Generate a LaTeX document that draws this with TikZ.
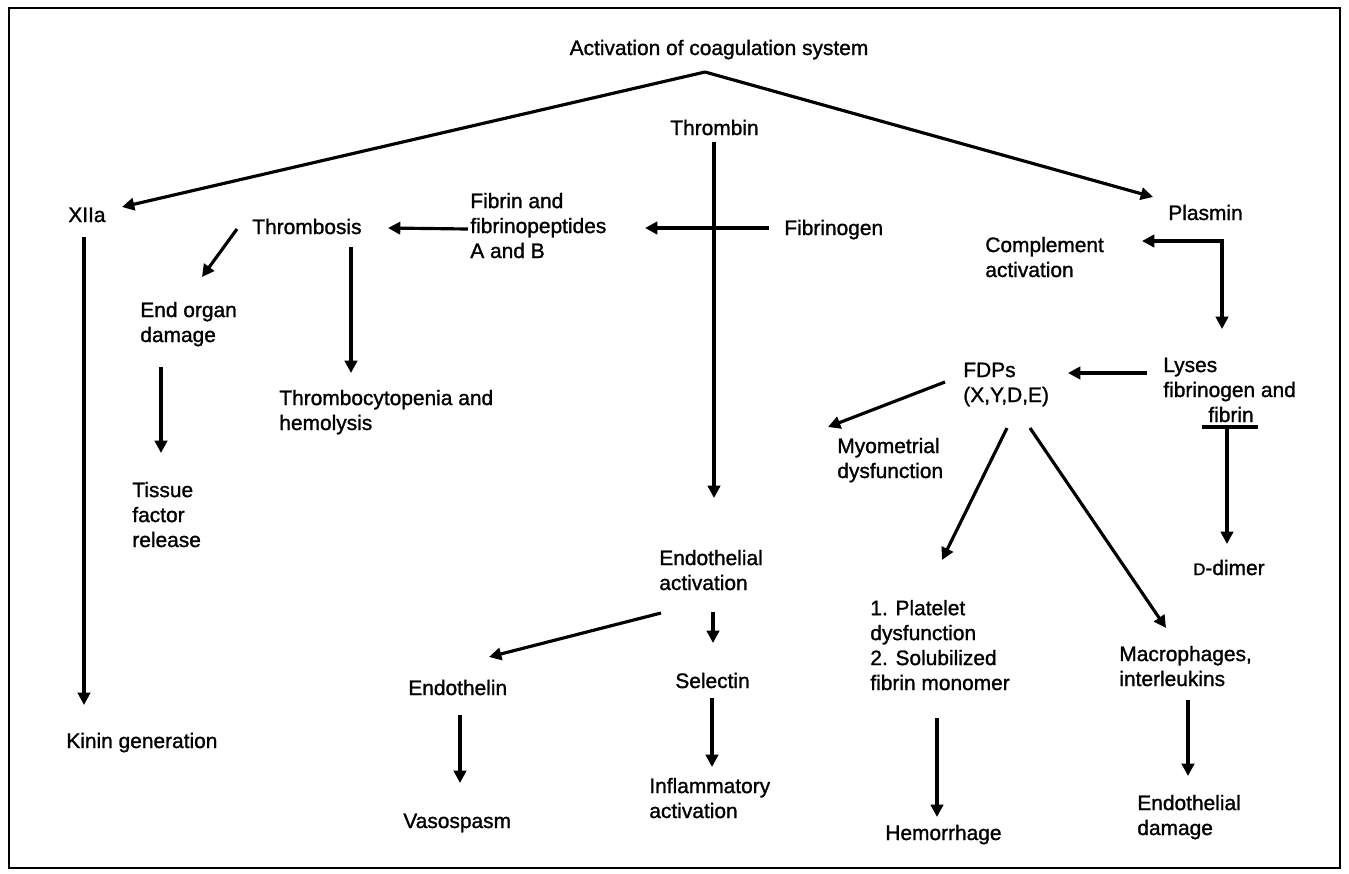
\documentclass[tikz,border=0pt]{standalone}
\usepackage{fontspec}
\setmainfont{Liberation Sans}[FakeBold=1.2]
\usepackage{tikz}
\usetikzlibrary{calc}
\usetikzlibrary{arrows.meta}

\tikzset{
    lbl/.style={font=\fontsize{11.9}{14.2}\selectfont, align=left, inner sep=0pt, anchor=base west},
    arr/.style={-{Triangle[width=7pt,length=7pt]}, line width=1.8pt},
    biarr/.style={{Triangle[width=7pt,length=7pt]}-{Triangle[width=7pt,length=7pt]}, line width=1.8pt},
    lnk/.style={line width=1.8pt}
}

\begin{document}
\begin{tikzpicture}[x=0.02cm, y=-0.02cm]
    \useasboundingbox (0,0) rectangle (1349,873);
    \draw[line width=1.4pt] (9,8) rectangle (1340,868);

    \node[lbl, anchor=base] (title) at (719,55) {Activation of coagulation system};
    \coordinate (apex) at ($(title.base)+(-14,17)$);

    \node[lbl] (thrombin) at (670,135) {Thrombin};
    \node[lbl] (xiia) at (68,222) {XIIa};
    \node[lbl] (plasmin) at (1168,220) {Plasmin};
    \node[lbl] (thrombosis) at (252,234) {Thrombosis};
    \node[lbl] (fibrin) at (470,258) {Fibrin and\\fibrinopeptides\\A and B};
    \node[lbl] (fibrinogen) at (784,235) {Fibrinogen};
    \node[lbl] (complement) at (985,277) {Complement\\activation};
    \node[lbl] (endorgan) at (140,342) {End organ\\damage};
    \node[lbl] (thrombo) at (279,430) {Thrombocytopenia and\\hemolysis};
    \node[lbl] (tissue) at (132,547) {Tissue\\factor\\release};
    \node[lbl] (kinin) at (66,748) {Kinin generation};

    \node[lbl] (lyses) at (1163,397) {Lyses\\fibrinogen and};
    \node[lbl] (lysfib) at (1208,422) {fibrin};
    \node[lbl] (ddimer) at (1193,575) {{\fontsize{9.5}{10}\selectfont D}-dimer};
    \node[lbl] (fdp) at (963,402) {FDPs\\(X,Y,D,E)};
    \node[lbl] (myo) at (837,478) {Myometrial\\dysfunction};
    \node[lbl] (platelet) at (870,690) {1. Platelet\\dysfunction\\2. Solubilized\\fibrin monomer};
    \node[lbl] (macro) at (1119,686) {Macrophages,\\interleukins};
    \node[lbl] (hemo) at (885,840) {Hemorrhage};
    \node[lbl] (enddam) at (1137,835) {Endothelial\\damage};

    \node[lbl] (endoact) at (659,590) {Endothelial\\activation};
    \node[lbl] (endothelin) at (408,695) {Endothelin};
    \node[lbl] (selectin) at (675,688) {Selectin};
    \node[lbl] (vaso) at (403,828) {Vasospasm};
    \node[lbl] (inflam) at (649,818) {Inflammatory\\activation};

    \draw[arr] (apex) -- ($(xiia.base west)+(54,-15)$);
    \draw[arr] (apex) -- ($(plasmin.base west)+(-15,-23)$);

    \draw[arr] ($(thrombin.base west)+(44,7)$) -- ($(endoact.base west)+(55,-92)$);
    \draw[arr] ($(fibrinogen.base west)+(-15,-7)$) -- ($(fibrin.base west)+(175,-30)$);
    \draw[arr] ($(fibrin.base west)+(-2,-29)$) -- ($(thrombosis.base west)+(136,-6)$);
    \draw[arr] ($(thrombosis.base west)+(-15,-5)$) -- ($(endorgan.base west)+(62,-65)$);
    \draw[arr] ($(thrombosis.base west)+(99,13)$) -- ($(thrombo.base west)+(72,-57)$);
    \draw[arr] ($(endorgan.base west)+(21,25)$) -- ($(tissue.base west)+(29,-94)$);
    \draw[arr] ($(xiia.base west)+(16,15)$) -- ($(kinin.base west)+(18,-43)$);

    \draw[biarr] ($(complement.base west)+(157,-36)$) -| ($(lyses.base west)+(59,-68)$);
    \draw[arr] ($(lyses.base west)+(-16,-24)$) -- ($(fdp.base west)+(105,-29)$);
    \draw[lnk] ($(lysfib.base west)+(-6,5)$) -- ($(lysfib.base west)+(50,5)$);
    \draw[arr] ($(lysfib.base west)+(19,5)$) -- ($(ddimer.base west)+(34,-31)$);

    \draw[arr] ($(fdp.base west)+(-18,-20)$) -- ($(myo.base west)+(-9,-51)$);
    \draw[arr] ($(fdp.base west)+(44,26)$) -- ($(platelet.base west)+(72,-130)$);
    \draw[arr] ($(fdp.base west)+(67,26)$) -- ($(macro.base west)+(47,-58)$);
    \draw[arr] ($(platelet.base west)+(67,28)$) -- ($(hemo.base west)+(52,-23)$);
    \draw[arr] ($(macro.base west)+(69,14)$) -- ($(enddam.base west)+(51,-59)$);

    \draw[arr] ($(endoact.base west)+(2,23)$) -- ($(endothelin.base west)+(81,-38)$);
    \draw[arr] ($(endoact.base west)+(54,22)$) -- ($(selectin.base west)+(38,-45)$);
    \draw[arr] ($(endothelin.base west)+(52,20)$) -- ($(vaso.base west)+(57,-45)$);
    \draw[arr] ($(selectin.base west)+(37,10)$) -- ($(inflam.base west)+(63,-51)$);
\end{tikzpicture}
\end{document}
